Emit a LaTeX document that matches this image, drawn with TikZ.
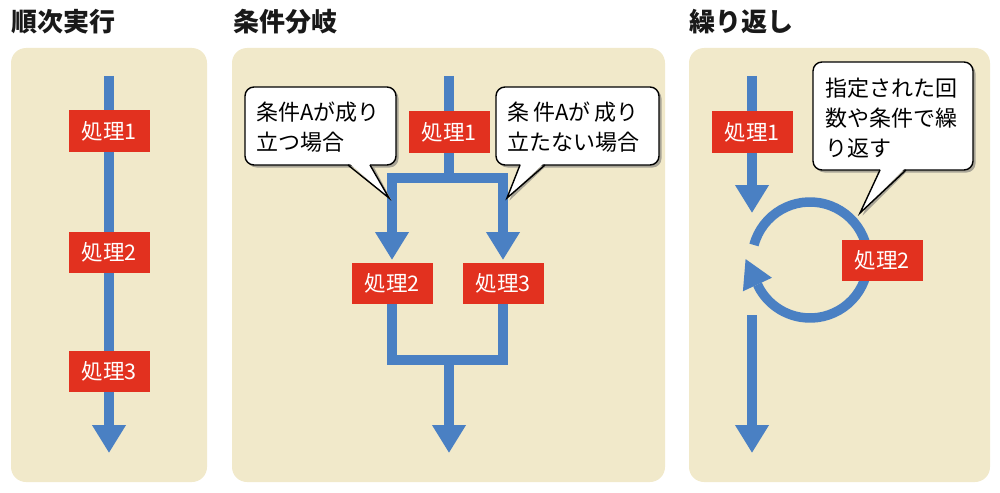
\documentclass[tikz,border=0pt]{standalone}
\usepackage{fontspec}
\setmainfont{Noto Sans CJK JP}
\usetikzlibrary{arrows.meta}
\definecolor{panelbg}{HTML}{F1E9CA}
\definecolor{flowblue}{HTML}{4A80C3}
\definecolor{boxred}{HTML}{E2311F}
\definecolor{shadowc}{HTML}{A8A496}
\pgfdeclarelayer{back}
\pgfsetlayers{back,main}
\newcommand\mycallout[8]{%
  \fill[shadowc, rounded corners=9pt, shift={(2.5,2.5)}] (#1,#2) rectangle (#3,#4);
  \fill[shadowc, shift={(2.5,2.5)}] (#5,#4-3) -- (#7,#8) -- (#6,#4-3) -- cycle;
  \draw[line width=1.4pt, fill=white, rounded corners=9pt] (#1,#2) rectangle (#3,#4);
  \fill[white] (#5+1,#4-2) -- (#7,#8) -- (#6-1,#4-2) -- cycle;
  \draw[line width=1.4pt, line join=miter] (#5,#4) -- (#7,#8) -- (#6,#4);
}
\begin{document}
\begin{tikzpicture}[x=1pt,y=-1pt,
  panel/.style={fill=panelbg, rounded corners=15pt},
  flow/.style={draw=flowblue, line width=9.5pt},
  tipped/.style={-{Triangle[width=32pt,length=28pt]}},
  procbox/.style={fill=boxred, text=white, minimum width=81pt, minimum height=41pt, inner sep=0pt, font=\fontsize{21.5}{24}\selectfont},
  title/.style={anchor=base west, font=\bfseries\fontsize{26}{28}\selectfont, text=black!90, inner sep=0pt},
  calltext/.style={anchor=west, align=left, inner sep=0pt, font=\fontsize{22}{30}\selectfont},
]
\useasboundingbox (0,0) rectangle (1000,492);

% panels
\begin{pgfonlayer}{back}
  \fill[panel] (11,48) rectangle (207,482);
  \fill[panel] (232,48) rectangle (665,482);
  \fill[panel] (689,48) rectangle (990,482);
\end{pgfonlayer}

% titles
\node[title] (t1) at (11,31.5) {順次実行};
\node[title] (t2) at (233,31.5) {条件分岐};
\node[title] (t3) at (689,31.5) {繰り返し};

% ---- panel 1: sequential
\coordinate (a0) at (109,76);
\coordinate (a9) at (109,453);
\node[procbox] (a1) at (109,131) {処理1};
\node[procbox] (a2) at (109,252) {処理2};
\node[procbox] (a3) at (109,371) {処理3};
\begin{pgfonlayer}{back}
  \draw[flow,tipped] (a0) -- (a9);
\end{pgfonlayer}

% ---- panel 2: branch
\coordinate (b0) at (449,76);
\node[procbox] (b1) at (449,132) {処理1};
\coordinate (bj) at (449,178);
\coordinate (bl) at (392,260);
\coordinate (br) at (503,260);
\node[procbox] (b2) at (392,283) {処理2};
\node[procbox] (b3) at (503,283) {処理3};
\coordinate (bm) at (449,360);
\coordinate (b9) at (449,453);
\begin{pgfonlayer}{back}
  \draw[flow] (b0) -- (bj);
  \draw[flow,tipped] (bj) -| (bl);
  \draw[flow,tipped] (bj) -| (br);
  \draw[flow] (b2.center) |- (bm) -| (b3.center);
  \draw[flow,tipped] (bm) -- (b9);
\end{pgfonlayer}

\mycallout{245}{87}{396}{165}{348}{370}{389}{198}
\node[calltext] (c1) at (256,127) {条件Aが成り\\立つ場合};
\mycallout{496}{87}{659}{165}{520}{545}{507}{198}
\node[calltext] (c2) at (507,127) {条\hspace{4pt}件Aが\hspace{4pt}成り\\立たない場合};

% ---- panel 3: loop
\coordinate (d0) at (752,76);
\node[procbox] (d1) at (752,132) {処理1};
\coordinate (d2) at (752,213);
\coordinate (lc) at (810,260);
\node[procbox] (d3) at (882,260) {処理2};
\coordinate (d4) at (752,315);
\coordinate (d9) at (752,453);
\begin{pgfonlayer}{back}
  \draw[flow,tipped] (d0) -- (d2);
  \draw[flow] (lc) ++(-165:58) arc[start angle=-165, end angle=155, radius=58];
  \fill[flowblue] (745.6,259.1) -- (771.9,277.75) -- (742.9,291.3) -- cycle;
  \draw[flow,tipped] (d4) -- (d9);
\end{pgfonlayer}

\mycallout{813}{62}{973}{170}{880}{906}{860}{213}
\node[calltext] (c3) at (825,118) {指定された回\\数や条件で繰\\り返す};

\end{tikzpicture}
\end{document}
